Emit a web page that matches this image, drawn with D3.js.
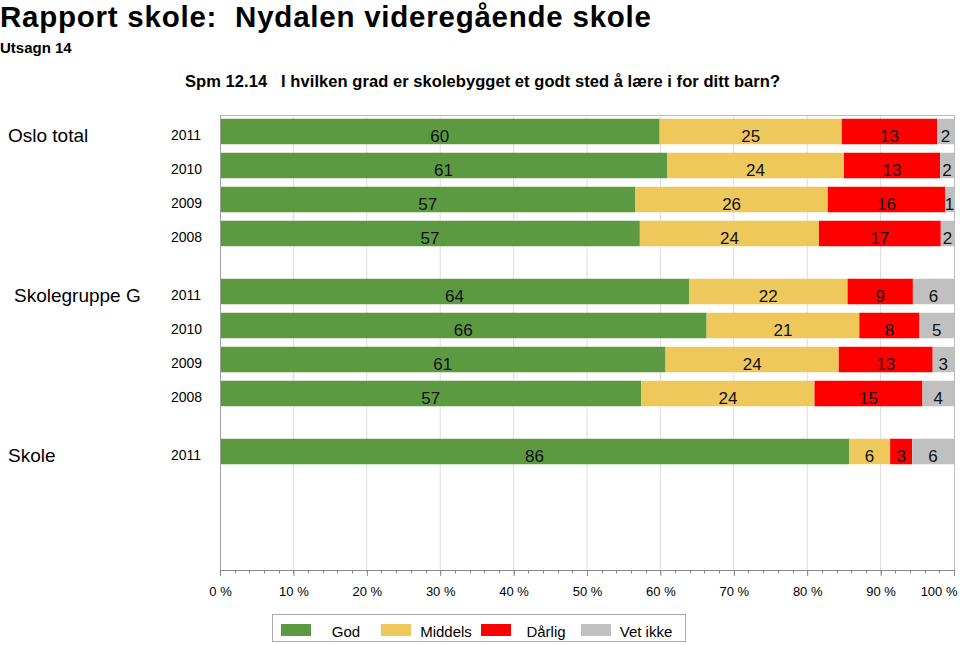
<!DOCTYPE html>
<html>
<head>
<meta charset="utf-8">
<script src="https://cdn.jsdelivr.net/npm/d3@7"></script>
<style>
  body { margin: 0; background: #fff; }
  svg { display: block; font-family: "Liberation Sans", Arial, Helvetica, sans-serif; }
  text { white-space: pre; }
</style>
</head>
<body>
<svg id="chart" width="960" height="645"></svg>
<script>
// ---- data ----
const title = "Rapport skole:  Nydalen videregående skole";
const subtitle = "Utsagn 14";
const questionId = "Spm 12.14";
const questionText = "I hvilken grad er skolebygget et godt sted å lære i for ditt barn?";
const groups = ["Oslo total", "Skolegruppe G", "Skole"];
const groupYears = [["2011", "2010", "2009", "2008"], ["2011", "2010", "2009", "2008"], ["2011"]];
const seriesNames = ["God", "Middels", "Dårlig", "Vet ikke"];
const seriesColors = ["#5b9a41", "#efc85c", "#ff0000", "#c0c0c0"];
// values per group, per year: [God, Middels, Dårlig, Vet ikke] (percent)
const osloValues = [[59.9, 24.8, 13.0, 2.3], [60.9, 24.1, 13.1, 1.9], [56.6, 26.2, 16.0, 1.2], [57.2, 24.4, 16.6, 1.8]];
const skolegruppeValues = [[63.9, 21.6, 8.9, 5.6], [66.3, 20.8, 8.2, 4.7], [60.7, 23.6, 12.8, 2.9], [57.4, 23.6, 14.7, 4.3]];
const skoleValues = [[85.7, 5.6, 3.0, 5.7]];
const groupValues = [osloValues, skolegruppeValues, skoleValues];
const xTicks = [0, 10, 20, 30, 40, 50, 60, 70, 80, 90, 100];

// ---- layout ----
const svg = d3.select("#chart");
const plot = { left: 220, right: 954, top: 115, bottom: 570 };
const groupStride = 4.706; // rows per group incl. gap
const rowStep = 34;
const firstRowCenter = 131.5;

const x = d3.scaleLinear().domain([0, 100]).range([plot.left, plot.right]);
const y = d3.scaleLinear()
  .domain([(plot.top - firstRowCenter) / rowStep, (plot.bottom - firstRowCenter) / rowStep])
  .range([plot.top, plot.bottom]);
const barH = rowStep * 0.75;

// flatten rows
const rows = [];
groups.forEach((g, gi) => {
  groupYears[gi].forEach((yr, yi) => {
    rows.push({ group: g, gi, yi, year: yr, pos: gi * groupStride + yi, values: groupValues[gi][yi] });
  });
});

// titles
svg.append("text").attr("x", 0).attr("y", 27).attr("font-size", 29.5).attr("font-weight", "bold")
  .attr("textLength", 651).attr("lengthAdjust", "spacing").text(title);
svg.append("text").attr("x", 0).attr("y", 53).attr("font-size", 15).attr("font-weight", "bold").text(subtitle);
svg.append("text").attr("x", 185).attr("y", 87).attr("font-size", 16.5).attr("font-weight", "bold")
  .attr("textLength", 595).attr("lengthAdjust", "spacing")
  .text(questionId + "   " + questionText);

// gridlines
svg.append("g").selectAll("line").data(xTicks.slice(1, -1)).join("line")
  .attr("x1", d => x(d)).attr("x2", d => x(d))
  .attr("y1", plot.top).attr("y2", plot.bottom)
  .attr("stroke", "#dcdcdc").attr("stroke-width", 1);

// bars
const rowG = svg.append("g").selectAll("g.row").data(rows).join("g").attr("class", "row");
rowG.each(function (r) {
  const g = d3.select(this);
  let acc = 0;
  const segs = r.values.map((v, i) => { const s = { i, v, x0: acc, x1: acc + v }; acc += v; return s; });
  const cy = y(r.pos);
  g.selectAll("rect").data(segs).join("rect")
    .attr("x", s => x(s.x0)).attr("width", s => x(s.x1) - x(s.x0))
    .attr("y", cy - barH / 2).attr("height", barH)
    .attr("fill", s => seriesColors[s.i]);
  g.selectAll("text").data(segs).join("text")
    .attr("x", s => (x(s.x0) + x(s.x1)) / 2).attr("y", cy + 10)
    .attr("text-anchor", "middle").attr("font-size", 17).attr("fill", "#111")
    .text(s => d3.format(".0f")(s.v));
  // year label
  svg.append("text").attr("x", 171).attr("y", cy + 8).attr("font-size", 14).text(r.year);
  if (r.yi === 0) {
    svg.append("text").attr("x", r.gi === 1 ? 14 : 8).attr("y", cy + 10.5).attr("font-size", 19).text(r.group);
  }
});

// frame
svg.append("line").attr("x1", plot.left).attr("x2", plot.right).attr("y1", plot.top + 0.5).attr("y2", plot.top + 0.5)
  .attr("stroke", "#bdbdbd");
svg.append("line").attr("x1", plot.right + 0.5).attr("x2", plot.right + 0.5).attr("y1", plot.top).attr("y2", plot.bottom)
  .attr("stroke", "#bdbdbd");
svg.append("line").attr("x1", plot.left + 0.5).attr("x2", plot.left + 0.5).attr("y1", plot.top).attr("y2", plot.bottom)
  .attr("stroke", "#a0a0a0");

// x axis
const minorTicks = d3.range(0, 101, 2);
const axisG = svg.append("g").attr("transform", `translate(0,${plot.bottom + 0.5})`);
axisG.append("line").attr("x1", plot.left).attr("x2", plot.right).attr("stroke", "#888");
axisG.selectAll("line.minor").data(minorTicks).join("line").attr("class", "minor")
  .attr("x1", d => Math.round(x(d)) + 0.5).attr("x2", d => Math.round(x(d)) + 0.5)
  .attr("y1", 0).attr("y2", 3).attr("stroke", "#888");
const xAxis = d3.axisBottom(x).tickValues(xTicks).tickSize(6).tickPadding(11).tickFormat(d => d + " %");
const ax = svg.append("g").attr("transform", `translate(0,${plot.bottom})`).call(xAxis);
ax.select(".domain").remove();
ax.selectAll(".tick line").attr("stroke", "#888");
ax.selectAll(".tick text").attr("font-size", 13).attr("font-family", "Liberation Sans, Arial, sans-serif").attr("fill", "#000");
// last label kept inside the page edge
ax.selectAll(".tick text").filter(d => d === 100).attr("text-anchor", "end").attr("x", 957 - x(100));

// legend
const lg = svg.append("g");
lg.append("rect").attr("x", 272.5).attr("y", 614.5).attr("width", 413).attr("height", 27)
  .attr("fill", "#fff").attr("stroke", "#aaa");
const items = lg.selectAll("g").data(seriesNames).join("g")
  .attr("transform", (d, i) => `translate(${281 + i * 100},0)`);
items.append("rect").attr("x", 0).attr("y", 624).attr("width", 30).attr("height", 12)
  .attr("fill", (d, i) => seriesColors[i]);
items.append("text").attr("x", 65).attr("y", 637).attr("text-anchor", "middle").attr("font-size", 15).text(d => d);
</script>
</body>
</html>
